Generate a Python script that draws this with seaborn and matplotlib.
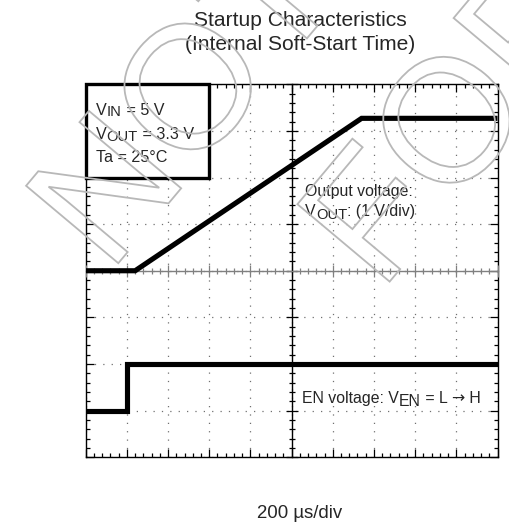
import numpy as np
import pandas as pd
import matplotlib
matplotlib.use("Agg")
import matplotlib.pyplot as plt
import seaborn as sns
from matplotlib.patches import Rectangle, PathPatch
from matplotlib.textpath import TextPath
from matplotlib.font_manager import FontProperties
from matplotlib.transforms import Affine2D, IdentityTransform

# ---- data (time in microseconds, traces in scope divisions / volts) ----
vout_time_us = [0, 240, 1340, 2000]
vout_volts = [0.0, 0.0, 3.27, 3.27]
en_time_us = [0, 200, 200, 2000]
en_div = [-3.0, -3.0, -2.0, -2.0]

title_lines = ["Startup Characteristics", "(Internal Soft-Start Time)"]
xlabel = "200 µs/div"

sns.set_theme(style="white")
plt.rcParams["font.family"] = ["Liberation Sans", "DejaVu Sans"]

fig = plt.figure(figsize=(5.09, 5.22), dpi=100)
rect = [85.7 / 509, (522 - 457.2) / 522, (497.5 - 85.7) / 509, (457.2 - 84.3) / 522]

# base axes: frame, edge ticks, dotted grid
ax = fig.add_axes(rect)
ax.set_xlim(0, 2000)
ax.set_ylim(-4, 4)
ax.set_xticks(np.arange(0, 2001, 200))
ax.set_yticks(np.arange(-4, 5, 1))
ax.set_xticks(np.arange(0, 2001, 40), minor=True)
ax.set_yticks(np.arange(-4, 4.01, 0.2), minor=True)
ax.tick_params(which="both", direction="in", top=True, right=True, bottom=True, left=True,
               labelbottom=False, labelleft=False, color="black", width=0.9)
ax.tick_params(which="major", length=6)
ax.tick_params(which="minor", length=3.2)
ax.grid(True, which="major", color="#707070", linewidth=0.9, linestyle=(0, (1, 5.7)))
for s in ax.spines.values():
    s.set_color("black")
    s.set_linewidth(1.0)

# overlay axes: centre cross with ticks, traces on top
ax2 = fig.add_axes(rect, sharex=ax, sharey=ax)
ax2.patch.set_visible(False)
ax2.spines["top"].set_visible(False)
ax2.spines["right"].set_visible(False)
ax2.spines["left"].set_position(("data", 1000))
ax2.spines["bottom"].set_position(("data", 0))
ax2.spines["left"].set_color("black")
ax2.spines["left"].set_linewidth(1.0)
ax2.spines["bottom"].set_color("#808080")
ax2.spines["bottom"].set_linewidth(1.0)
ax2.tick_params(which="both", direction="inout", labelbottom=False, labelleft=False,
                bottom=True, left=True, top=False, right=False, width=0.9)
ax2.tick_params(axis="x", which="both", color="#808080")
ax2.tick_params(axis="y", which="both", color="black")
ax2.tick_params(which="major", length=8)
ax2.tick_params(which="minor", length=5)
ax2.grid(False)

df_vout = pd.DataFrame({"t": vout_time_us, "v": vout_volts})
df_en = pd.DataFrame({"t": en_time_us, "v": en_div})
sns.lineplot(data=df_vout, x="t", y="v", ax=ax2, color="black", linewidth=3.7,
             estimator=None, sort=False, zorder=5)
sns.lineplot(data=df_en, x="t", y="v", ax=ax2, color="black", linewidth=3.7,
             estimator=None, sort=False, zorder=5)
for l in ax2.lines:
    l.set_solid_capstyle("butt")
    l.set_solid_joinstyle("miter")
ax2.set_xlabel("")
ax2.set_ylabel("")
ax2.set_xlim(0, 2000)
ax2.set_ylim(-4, 4)

# condition box
ax2.add_patch(Rectangle((0, 2), 600, 2, facecolor="white", edgecolor="black",
                        linewidth=2.4, zorder=6, clip_on=False))

renderer = fig.canvas.get_renderer()

def rich(x, y, pieces):
    """pieces: (text, fontsize, baseline shift in px, family)"""
    x0, y0 = ax2.transData.transform((x, y))
    for txt, size, dy, fam in pieces:
        kw = {} if fam is None else {"family": fam}
        t = ax2.text(x0, y0 + dy, txt, fontsize=size, ha="left", va="baseline",
                     transform=IdentityTransform(), zorder=7, **kw)
        x0 += t.get_window_extent(renderer).width

S = 11.6
SUB = 10.6
rich(50, 3.35, [("V", S, 0, None), ("IN", SUB, -1.5, None), (" = 5 V", S, 0, None)])
rich(50, 2.83, [("V", S, 0, None), ("OUT", SUB, -2.5, None), (" = 3.3 V", S, 0, None)])
rich(50, 2.33, [("Ta = 25°C", S, 0, None)])

T = 11.4
rich(1066, 1.60, [("Output voltage:", T, 0, None)])
rich(1066, 1.17, [("V", T, 0, None), ("OUT", SUB, -2.5, None), (": (1 V/div)", T, 0, None)])
rich(1051, -2.83, [("EN voltage: V", T, 0, None), ("EN", T, -3, None), (" = L ", T, 0, None),
                   ("→", T, 0, "DejaVu Sans"), (" H", T, 0, None)])

# titles and x label
fig.text(300 / 509, 1 - 26 / 522, title_lines[0], ha="center", va="baseline", fontsize=15.1)
fig.text(300 / 509, 1 - 50 / 522, title_lines[1], ha="center", va="baseline", fontsize=15.1)
fig.text(300 / 509, 4.5 / 522, xlabel, ha="center", va="baseline", fontsize=13.4)

# outlined watermark
fp = FontProperties(family="Liberation Sans", weight="normal")
def watermark(word, cx, cy, size, angle):
    tp = TextPath((0, 0), word, size=size, prop=fp)
    bb = tp.get_extents()
    tr = (Affine2D().translate(-(bb.x0 + bb.x1) / 2, -(bb.y0 + bb.y1) / 2)
          .rotate_deg(angle).translate(cx, 522 - cy))
    patch = PathPatch(tr.transform_path(tp), facecolor="none", edgecolor="#b8b8b8",
                      linewidth=1.3, transform=IdentityTransform(), zorder=20)
    fig.patches.append(patch)

watermark("NOT", 185, 90, 175, 50)
watermark("FOR", 455, 110, 175, 50)

fig.savefig("out.png", dpi=100)
